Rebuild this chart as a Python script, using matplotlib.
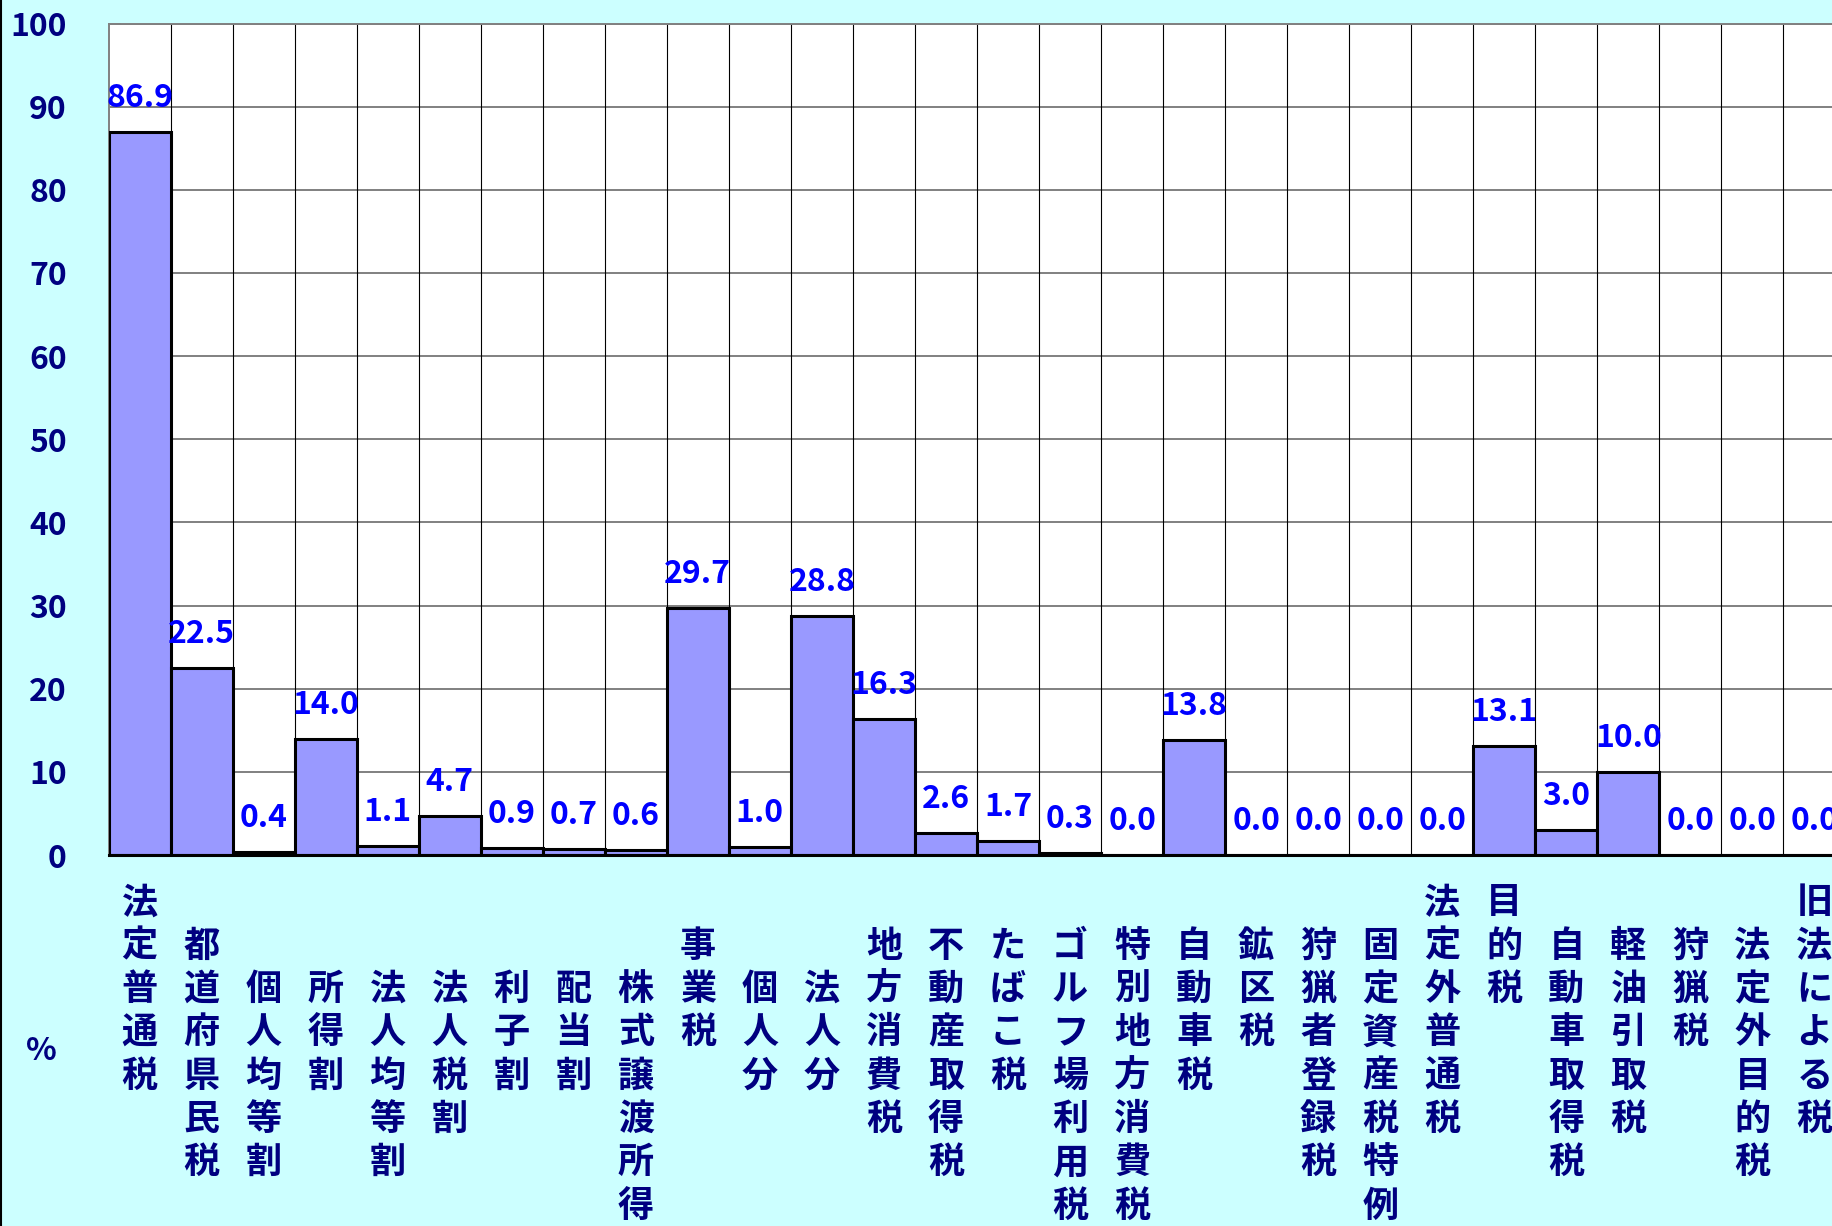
import matplotlib
matplotlib.use('Agg')
import matplotlib.pyplot as plt
import matplotlib.transforms as mtransforms
from matplotlib.lines import Line2D

plt.rcParams['font.family'] = ['Noto Sans CJK JP', 'DejaVu Sans']

# category names and hierarchy level (0 = top level, 2 = sub item)
labels = ['法定普通税', '都道府県民税', '個人均等割', '所得割', '法人均等割', '法人税割',
          '利子割', '配当割', '株式譲渡所得割', '事業税', '個人分', '法人分',
          '地方消費税', '不動産取得税', 'たばこ税', 'ゴルフ場利用税', '特別地方消費税',
          '自動車税', '鉱区税', '狩猟者登録税', '固定資産税特例', '法定外普通税',
          '目的税', '自動車取得税', '軽油引取税', '狩猟税', '法定外目的税', '旧法による税']
levels = [0, 1, 2, 2, 2, 2, 2, 2, 2, 1, 2, 2, 1, 1, 1, 1, 1, 1, 1, 1, 1, 0,
          0, 1, 1, 1, 1, 0]
values = [86.9, 22.5, 0.4, 14.0, 1.1, 4.7, 0.9, 0.7, 0.6, 29.7, 1.0, 28.8,
          16.3, 2.6, 1.7, 0.3, 0.0, 13.8, 0.0, 0.0, 0.0, 0.0, 13.1, 3.0,
          10.0, 0.0, 0.0, 0.0]
yticks = [0, 10, 20, 30, 40, 50, 60, 70, 80, 90, 100]

W, H = 1832, 1226
navy = '#000080'

fig = plt.figure(figsize=(W / 100, H / 100), dpi=100)
fig.patch.set_facecolor('#CCFFFF')

ax = fig.add_axes([108.5 / W, 1 - 855 / H, 1737 / W, (855 - 23.5) / H])
ax.set_facecolor('white')

x = list(range(len(values)))
ax.bar(x, values, width=1.0, color='#9999FF', edgecolor='black',
       linewidth=2.2, zorder=3)

for xi, v in zip(x, values):
    ax.annotate('%.1f' % v, (xi, v), xytext=(0, 18), textcoords='offset points',
                ha='center', va='baseline', color='#0000FF', fontsize=23,
                fontweight='bold', zorder=4)

ax.set_xlim(-0.5, len(values) - 0.5)
ax.set_ylim(0, 100)
ax.set_yticks(yticks)
ax.set_yticklabels([str(t) for t in yticks], fontsize=23, fontweight='bold',
                   color=navy)
ax.tick_params(axis='y', direction='in', length=8.5, width=1.4,
               color='#808080', pad=30)
ax.set_xticks([])

# grid: grey horizontal, thin black vertical category dividers
for t in yticks[1:]:
    ax.axhline(t, color='#808080', linewidth=1.4, zorder=1)
for k in range(len(values)):
    ax.axvline(k + 0.5, color='black', linewidth=0.8, zorder=1)

for side in ['top', 'left']:
    ax.spines[side].set_color('#808080')
    ax.spines[side].set_linewidth(1.4)
ax.spines['right'].set_visible(False)
ax.spines['bottom'].set_color('black')
ax.spines['bottom'].set_linewidth(2.2)
ax.spines['bottom'].set_zorder(5)

# vertical stacked category labels
trans = mtransforms.blended_transform_factory(ax.transData, fig.transFigure)
for xi, (name, lev) in enumerate(zip(labels, levels)):
    for j, ch in enumerate(name):
        ypix = 989.5 + (lev - 2 + j) * 43.3
        fig.text(xi, 1 - ypix / H, ch, transform=trans, ha='center',
                 va='center', fontsize=26, fontweight='bold', color=navy)

fig.text(41 / W, 1 - 1051 / H, '%', ha='center', va='center', fontsize=23,
         fontweight='bold', color=navy)

fig.add_artist(Line2D([1 / W, 1 / W], [0, 1], color='black', linewidth=1.5,
                      transform=fig.transFigure))

fig.savefig('out.png', dpi=100, facecolor=fig.get_facecolor())
